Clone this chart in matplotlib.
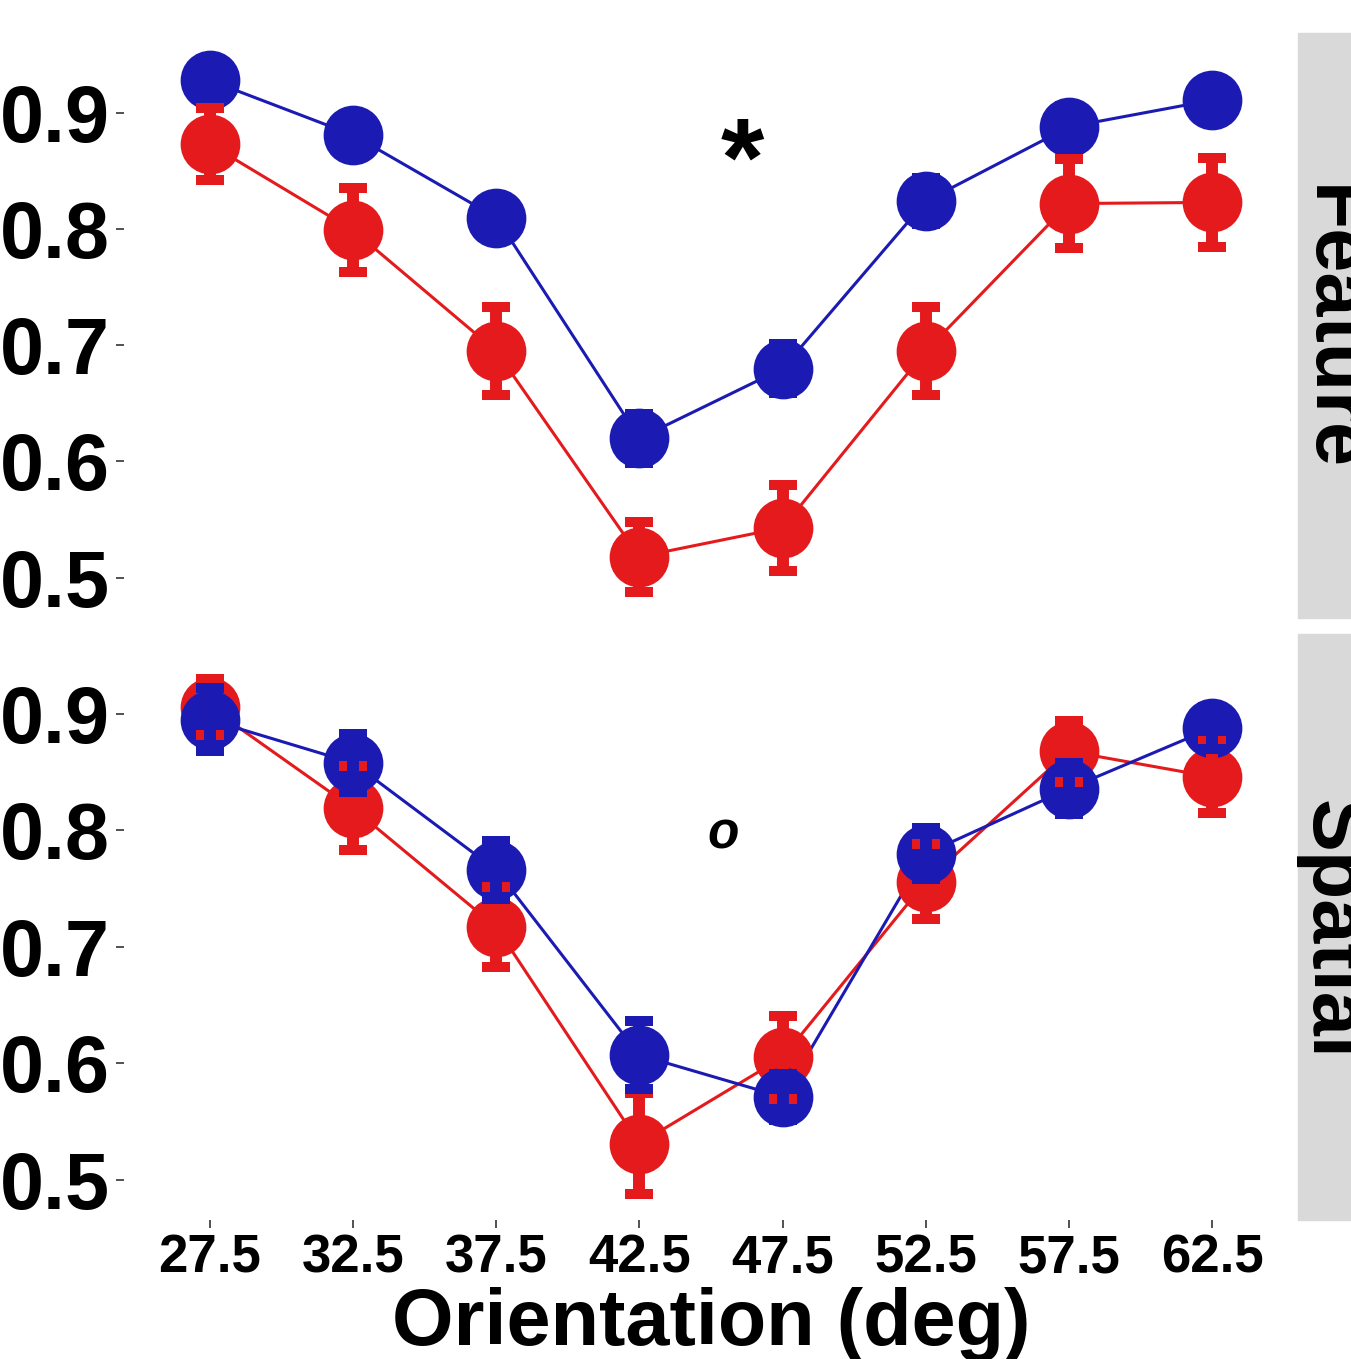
import matplotlib
matplotlib.use("Agg")
import matplotlib.pyplot as plt
import numpy as np

plt.rcParams['font.family'] = ['Liberation Sans', 'DejaVu Sans']
plt.rcParams['font.weight'] = 'bold'

# data
orientation = [27.5, 32.5, 37.5, 42.5, 47.5, 52.5, 57.5, 62.5]
tick_labels = ["27.5", "32.5", "37.5", "42.5", "47.5", "52.5", "57.5", "62.5"]

feature_blue = [0.928, 0.881, 0.810, 0.620, 0.680, 0.824, 0.888, 0.911]
feature_blue_err = [0.012, 0.014, 0.016, 0.021, 0.021, 0.020, 0.018, 0.015]
feature_red = [0.873, 0.799, 0.695, 0.518, 0.543, 0.695, 0.822, 0.823]
feature_red_err = [0.031, 0.036, 0.038, 0.030, 0.037, 0.038, 0.038, 0.038]

spatial_blue = [0.895, 0.858, 0.766, 0.607, 0.571, 0.780, 0.836, 0.888]
spatial_blue_err = [0.027, 0.025, 0.025, 0.029, 0.020, 0.022, 0.022, 0.018]
spatial_red = [0.906, 0.819, 0.717, 0.531, 0.605, 0.756, 0.868, 0.846]
spatial_red_err = [0.024, 0.036, 0.034, 0.043, 0.036, 0.032, 0.026, 0.031]

panels = ["Feature", "Spatial"]
marks = ["*", "o"]

RED = '#e41a1c'
BLUE = '#1b1bb3'

W, H = 1351, 1359
fig = plt.figure(figsize=(W / 100, H / 100), dpi=100)

# panel boxes in pixels (left, top, right, bottom)
boxes = [(124, 33, 1298, 618), (124, 634, 1298, 1220)]
series = [
    (feature_red, feature_red_err, feature_blue, feature_blue_err),
    (spatial_red, spatial_red_err, spatial_blue, spatial_blue_err),
]

axes = []
for i, (l, t, r, b) in enumerate(boxes):
    ax = fig.add_axes([l / W, 1 - b / H, (r - l) / W, (b - t) / H])
    axes.append(ax)
    red, red_err, blue, blue_err = series[i]

    ax.plot(orientation, red, color=RED, lw=2.2, zorder=2)
    ax.plot(orientation, blue, color=BLUE, lw=2.2, zorder=2)
    ax.plot(orientation, red, 'o', color=RED, ms=43, mec='none', zorder=3)
    ax.plot(orientation, blue, 'o', color=BLUE, ms=43, mec='none', zorder=3)
    ax.errorbar(orientation, red, yerr=red_err, fmt='none', ecolor=RED,
                elinewidth=8.6, capsize=10, capthick=7.2, zorder=4)
    ax.errorbar(orientation, blue, yerr=blue_err, fmt='none', ecolor=BLUE,
                elinewidth=8.6, capsize=10, capthick=7.2, zorder=5)

    ax.set_xlim(24.5, 65.5)
    ax.set_ylim(0.4653, 0.9688)
    ax.set_yticks([0.5, 0.6, 0.7, 0.8, 0.9])
    ax.set_yticklabels(["0.5", "0.6", "0.7", "0.8", "0.9"], fontsize=57, fontweight='bold')
    ax.set_xticks(orientation)
    ax.tick_params(axis='both', length=6, width=1.2, color='#333333')
    ax.tick_params(axis='y', pad=4)
    if i == 1:
        ax.set_xticklabels(tick_labels, fontsize=38, fontweight='bold')
        ax.tick_params(axis='x', pad=4)
    else:
        ax.tick_params(axis='x', length=0, labelbottom=False)
    for s in ax.spines.values():
        s.set_visible(False)

    # facet strip on the right
    fig.patches.append(plt.Rectangle((r / W, 1 - b / H), 90 / W, (b - t) / H,
                                     transform=fig.transFigure, color='#d9d9d9', zorder=0))
    fig.text(1331 / W, 1 - ((t + b) / 2 + 3) / H, panels[i], rotation=-90, fontsize=57,
             fontweight='bold', ha='center', va='center')

axes[0].text(46.1, 0.8535, marks[0], fontsize=80, fontweight='bold', ha='center', va='center')
axes[1].text(45.43, 0.7965, marks[1], fontsize=37, fontweight='bold', style='italic',
             ha='center', va='center')

fig.text(711 / W, 1 - 1345 / H, "Orientation (deg)", fontsize=57, fontweight='bold',
         ha='center', va='baseline')

fig.savefig("out.png", dpi=100)
